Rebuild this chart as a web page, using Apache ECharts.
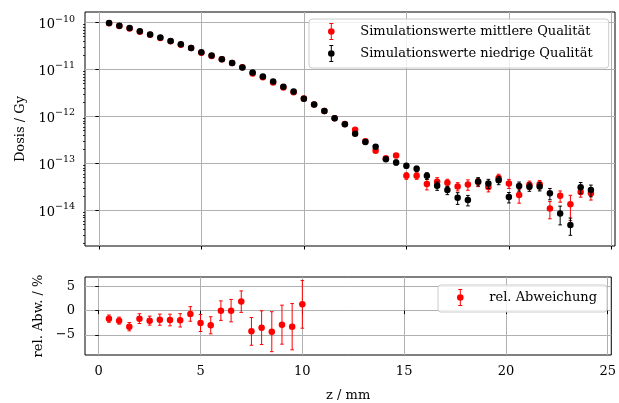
<!DOCTYPE html>
<html><head><meta charset="utf-8">
<script src="https://cdn.jsdelivr.net/npm/echarts@6/dist/echarts.min.js"></script>
<style>html,body{margin:0;padding:0;background:#fff}#c{width:619px;height:403px}</style>
</head><body><div id="c"></div>
<script>
// ---- data ----
const zValues = [0.5,1,1.5,2,2.5,3,3.5,4,4.5,5,5.5,6,6.5,7,7.5,8,8.5,9,9.5,10,10.5,11,11.5,12,
  12.5,13,13.5,14,14.5,15,15.5,16,16.5,17,17.5,18,18.5,19,19.5,20,20.5,21,21.5,22,22.5,23,23.5,24];
const doseMedium = [9.64e-11,8.42e-11,7.45e-11,6.39e-11,5.49e-11,4.71e-11,3.99e-11,3.38e-11,2.86e-11,2.27e-11,
  1.93e-11,1.66e-11,1.38e-11,1.12e-11,8.23e-12,6.85e-12,5.32e-12,4.15e-12,3.29e-12,2.40e-12,
  1.80e-12,1.30e-12,9.2e-13,6.9e-13,5.19e-13,2.95e-13,1.86e-13,1.28e-13,1.48e-13,5.45e-14,
  5.45e-14,3.63e-14,4.07e-14,3.89e-14,3.24e-14,3.57e-14,4.0e-14,3.13e-14,4.9e-14,3.75e-14,
  2.12e-14,3.5e-14,3.6e-14,1.10e-14,2.04e-14,1.35e-14,2.45e-14,2.3e-14];
const doseLow = [9.8e-11,8.6e-11,7.7e-11,6.5e-11,5.6e-11,4.8e-11,4.07e-11,3.45e-11,2.88e-11,2.33e-11,
  1.99e-11,1.66e-11,1.38e-11,1.10e-11,8.6e-12,7.1e-12,5.56e-12,4.27e-12,3.4e-12,2.37e-12,
  1.80e-12,1.30e-12,9.2e-13,6.85e-13,4.27e-13,2.85e-13,2.25e-13,1.23e-13,1.05e-13,8.9e-14,
  7.7e-14,5.45e-14,3.33e-14,2.70e-14,1.86e-14,1.66e-14,4.14e-14,3.75e-14,4.4e-14,1.92e-14,
  3.29e-14,3.18e-14,3.24e-14,2.30e-14,8.6e-15,4.9e-15,3.09e-14,2.70e-14];
// relative 1-sigma uncertainty in percent
const errMediumPct = [0.5,0.5,0.5,0.5,0.5,0.5,0.5,0.5,0.5,0.5,0.6,0.6,0.7,0.7,0.8,0.9,1,1,1.2,1.3,
  2,2,2.5,3,3,4,6,8,10,16,16,25,22,18,20,25,20,21,20,22,33,20,20,40,27,55,22,28];
const errLowPct = [0.8,0.8,0.8,0.8,0.8,0.8,0.8,0.9,0.9,1,1,1,1.1,1.2,1.3,1.4,1.5,1.6,1.8,2,
  3,3,3.5,4,4,5,6,8,12,12,13,16,20,20,28,25,20,22,20,25,22,20,20,27,43,40,27,28];
const zRel = [0.5,1,1.5,2,2.5,3,3.5,4,4.5,5,5.5,6,6.5,7,7.5,8,8.5,9,9.5,10];
const relDev = [-1.64,-2.05,-3.29,-1.64,-2.05,-1.85,-1.92,-1.99,-0.68,-2.53,-3.01,0.0,0.0,1.85,-4.25,-3.49,-4.32,-2.88,-3.29,1.30];
const relDevErr = [0.75,0.72,0.85,1.0,0.92,1.15,1.2,1.37,1.5,1.75,1.75,2.0,2.3,2.2,2.85,3.45,4.1,4.0,4.75,4.9];
const xTicks = [0,5,10,15,20,25];
const doseTicks = [1e-14,1e-13,1e-12,1e-11,1e-10];
const relTicks = [-5,0,5];
const nameMedium = 'Simulationswerte mittlere Qualität';
const nameLow = 'Simulationswerte niedrige Qualität';
const nameRel = 'rel. Abweichung';

// minor ticks of log axis (2..9 x decade)
const minorDoseTicks = [];
[1e-15].concat(doseTicks).forEach(d => { for (let k = 2; k <= 9; k++) minorDoseTicks.push(k * d); });

const FONT = 'DejaVu Serif';
const FS = 13;
const gridColor = '#b0b0b0';

function errBarData(xs, vs, es, pct) {
  return xs.map((x, i) => {
    const e = pct ? vs[i] * es[i] / 100 : es[i];
    return [x, vs[i] - e, vs[i] + e];
  });
}
function errorBarRender(color) {
  return function (params, api) {
    const x = api.value(0), lo = api.value(1), hi = api.value(2);
    const pHi = api.coord([x, hi]);
    const pLo = api.coord([x, lo]);
    const cw = 1.8;
    const style = {stroke: color, lineWidth: 1};
    return {type: 'group', children: [
      {type: 'line', shape: {x1: pHi[0], y1: pHi[1], x2: pLo[0], y2: pLo[1]}, style},
      {type: 'line', shape: {x1: pHi[0] - cw, y1: pHi[1], x2: pHi[0] + cw, y2: pHi[1]}, style},
      {type: 'line', shape: {x1: pLo[0] - cw, y1: pLo[1], x2: pLo[0] + cw, y2: pLo[1]}, style}
    ]};
  };
}
const errIcon = 'path://M1.5,0H5.5V1H1.5Z M3,0H4V5.4H3Z M6.8,8.5A3.3,3.3 0 1,1 0.2,8.5A3.3,3.3 0 1,1 6.8,8.5Z M3,11.6H4V17H3Z M1.5,16H5.5V17H1.5Z';

function logLabel(v) {
  const e = Math.round(Math.log10(v));
  return '{b|10}{s|' + String(e).replace('-', '−') + '}';
}

const chart = echarts.init(document.getElementById('c'), null, {renderer: 'canvas'});
const baseText = {fontFamily: FONT, color: '#000'};
const legendCommon = {
  orient: 'vertical', align: 'left',
  itemWidth: 32, itemHeight: 17, itemGap: 5,
  backgroundColor: 'rgba(255,255,255,0.8)', borderColor: '#cccccc', borderWidth: 1, borderRadius: 3,
  textStyle: {fontFamily: FONT, fontSize: FS, color: '#000', padding: [0, 0, 0, 8]},
  selectedMode: false
};

chart.setOption({
  animation: false,
  backgroundColor: '#fff',
  textStyle: baseText,
  grid: [
    {left: 85, top: 12, width: 530, height: 234, show: true, borderColor: '#000', borderWidth: 1, backgroundColor: 'transparent'},
    {left: 85, top: 277, width: 530, height: 78, show: true, borderColor: '#000', borderWidth: 1, backgroundColor: 'transparent'}
  ],
  legend: [
    Object.assign({}, legendCommon, {left: 309, top: 19, padding: [4, 16, 6, 19], data: [
      {name: nameMedium, icon: errIcon}, {name: nameLow, icon: errIcon}]}),
    Object.assign({}, legendCommon, {left: 438, top: 285, padding: [4, 10, 6, 19], data: [{name: nameRel, icon: errIcon}]})
  ],
  xAxis: [
    {type: 'value', gridIndex: 0, min: -0.675, max: 25.175,
      axisLine: {show: false},
      axisTick: {show: true, customValues: xTicks, length: 3.5, lineStyle: {color: '#000'}},
      axisLabel: {show: false, customValues: xTicks},
      splitLine: {show: true, lineStyle: {color: gridColor, width: 1}}},
    {type: 'value', gridIndex: 1, min: -0.675, max: 25.175,
      name: 'z / mm', nameLocation: 'middle', nameGap: 34,
      nameTextStyle: {fontFamily: FONT, fontSize: FS, color: '#000'},
      axisLine: {show: false},
      axisTick: {show: true, customValues: xTicks, length: 3.5, lineStyle: {color: '#000'}},
      axisLabel: {show: true, customValues: xTicks, margin: 10, fontFamily: FONT, fontSize: FS, color: '#000'},
      splitLine: {show: true, lineStyle: {color: gridColor, width: 1}}}
  ],
  yAxis: [
    {type: 'log', logBase: 10, gridIndex: 0, min: 1.74e-15, max: 1.68e-10, position: 'left',
      name: 'Dosis / Gy', nameLocation: 'middle', nameGap: 56, nameRotate: 90,
      nameTextStyle: {fontFamily: FONT, fontSize: FS, color: '#000'},
      axisLine: {show: false},
      axisTick: {show: true, customValues: doseTicks, length: 3.5, lineStyle: {color: '#000'}},
      axisLabel: {show: true, customValues: doseTicks, margin: 10, formatter: logLabel,
        rich: {
          b: {fontFamily: FONT, fontSize: FS, color: '#000', lineHeight: 17, verticalAlign: 'bottom'},
          s: {fontFamily: FONT, fontSize: 9.5, color: '#000', lineHeight: 9, verticalAlign: 'top'}
        }},
      splitLine: {show: true, lineStyle: {color: gridColor, width: 1}}},
    {type: 'log', logBase: 10, gridIndex: 0, min: 1.74e-15, max: 1.68e-10, position: 'left',
      axisLine: {show: false},
      axisTick: {show: true, customValues: minorDoseTicks, length: 2, lineStyle: {color: '#000', width: 0.8}},
      axisLabel: {show: false},
      splitLine: {show: false}},
    {type: 'value', gridIndex: 1, min: -9.1, max: 6.9, position: 'left',
      name: 'rel. Abw. / %', nameLocation: 'middle', nameGap: 36, nameRotate: 90,
      nameTextStyle: {fontFamily: FONT, fontSize: FS, color: '#000'},
      axisLine: {show: false},
      axisTick: {show: true, customValues: relTicks, length: 3.5, lineStyle: {color: '#000'}},
      axisLabel: {show: true, customValues: relTicks, margin: 10, fontFamily: FONT, fontSize: FS, color: '#000',
        formatter: v => String(v).replace('-', '−')},
      splitLine: {show: true, lineStyle: {color: gridColor, width: 1}}}
  ],
  series: [
    {type: 'custom', name: 'errMedium', xAxisIndex: 0, yAxisIndex: 0,
      renderItem: errorBarRender('#ff0000'), encode: {x: 0, y: [1, 2]},
      data: errBarData(zValues, doseMedium, errMediumPct, true), z: 2},
    {type: 'scatter', name: nameMedium, xAxisIndex: 0, yAxisIndex: 0, symbol: 'circle', symbolSize: 6.5,
      itemStyle: {color: '#ff0000', opacity: 1},
      data: zValues.map((z, i) => [z, doseMedium[i]]), z: 2},
    {type: 'custom', name: 'errLow', xAxisIndex: 0, yAxisIndex: 0,
      renderItem: errorBarRender('#000000'), encode: {x: 0, y: [1, 2]},
      data: errBarData(zValues, doseLow, errLowPct, true), z: 3},
    {type: 'scatter', name: nameLow, xAxisIndex: 0, yAxisIndex: 0, symbol: 'circle', symbolSize: 6.5,
      itemStyle: {color: '#000000', opacity: 1},
      data: zValues.map((z, i) => [z, doseLow[i]]), z: 3},
    {type: 'custom', name: 'errRel', xAxisIndex: 1, yAxisIndex: 2,
      renderItem: errorBarRender('#ff0000'), encode: {x: 0, y: [1, 2]},
      data: errBarData(zRel, relDev, relDevErr, false), z: 2},
    {type: 'scatter', name: nameRel, xAxisIndex: 1, yAxisIndex: 2, symbol: 'circle', symbolSize: 6.5,
      itemStyle: {color: '#ff0000', opacity: 1},
      data: zRel.map((z, i) => [z, relDev[i]]), z: 2}
  ]
});
</script>
</body></html>
